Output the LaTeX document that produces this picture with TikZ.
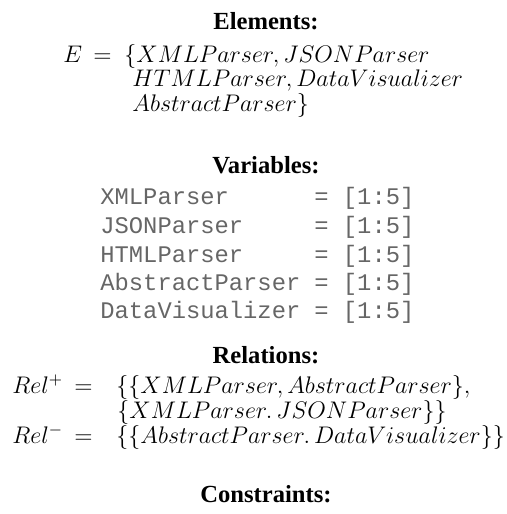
\documentclass[tikz,border=0pt]{standalone}
\usepackage{amsmath}
\usepackage{fontspec}
\setmonofont{Liberation Mono}
\newfontfamily\headfont{Liberation Serif}
\usepackage{tikz}
\usetikzlibrary{positioning}

\begin{document}
\begin{tikzpicture}[x=0.5pt,y=-0.5pt,
    head/.style={anchor=base, inner sep=0pt, font=\headfont\fontsize{12.3}{14}\selectfont\bfseries},
    mathline/.style={anchor=base west, inner sep=0pt, text height=0.68em, text depth=0.18em, font=\fontsize{11.6}{14}\selectfont},
    varline/.style={anchor=base west, inner sep=0pt, text=black!60, font=\ttfamily\fontsize{11.9}{14}\selectfont}]
    \useasboundingbox (0,0) rectangle (507,514);
    % Elements
    \node[head] (elemhead) at (266,29) {Elements:};
    \node[mathline] (elemE) at (63,62) {$E$};
    \node[mathline] (elemeq) at (93,62) {$=$};
    \node[mathline] (elem1) at (124,62) {$\{XMLParser, JSONParser$};
    \node[mathline] (elem2) at (132,86) {$HTMLParser, DataVisualizer$};
    \node[mathline] (elem3) at (132,111) {$AbstractParser\}$};
    % Variables
    \node[head] (varhead) at (266,173) {Variables:};
    \foreach \name/\y [count=\i] in {XMLParser/204, JSONParser/233, HTMLParser/262, AbstractParser/290, DataVisualizer/318} {
        \node[varline] (var\i) at (100,\y) {\name};
        \node[varline] (val\i) at (314,\y) {= [1:5]};
      }
    % Relations
    \node[head] (relhead) at (266,363) {Relations:};
    \node[mathline] (relp) at (12,393) {$Rel^{+}$};
    \node[mathline] (relpeq) at (74,393) {$=$};
    \node[mathline] (relp1) at (116,393) {$\{\{XMLParser, AbstractParser\},$};
    \node[mathline] (relp2) at (117,418) {$\{XMLParser.\,JSONParser\}\}$};
    \node[mathline] (relm) at (12,443) {$Rel^{-}$};
    \node[mathline] (relmeq) at (74,443) {$=$};
    \node[mathline] (relm1) at (116,443) {$\{\{AbstractParser.\,DataVisualizer\}\}$};
    % Constraints
    \node[head] (conhead) at (266,502) {Constraints:};
  \end{tikzpicture}
\end{document}
